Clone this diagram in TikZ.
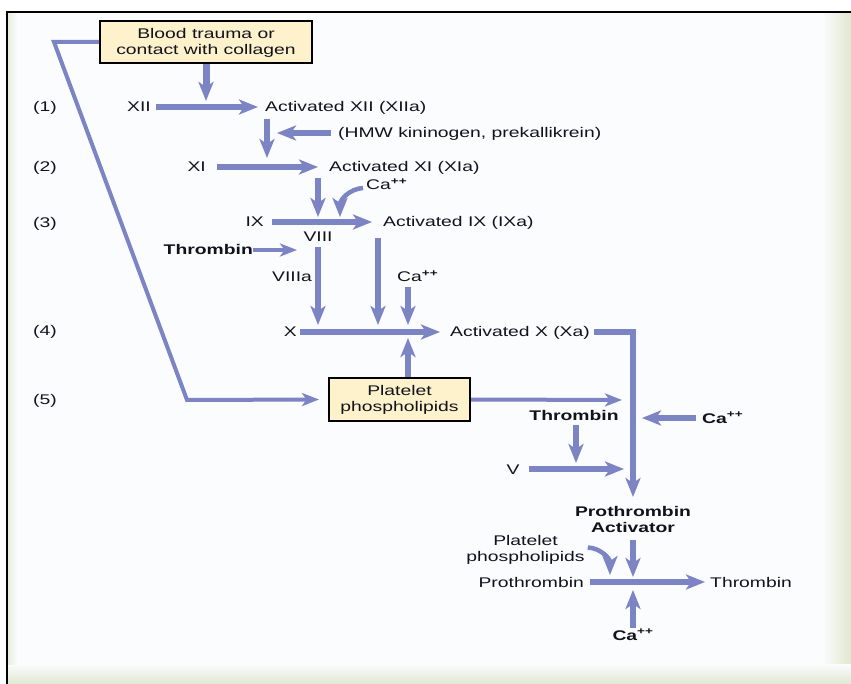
\documentclass[tikz,border=0pt]{standalone}
\usepackage{fontspec}
\setmainfont{Liberation Sans}[FakeStretch=1.38]
\usetikzlibrary{arrows.meta}
\definecolor{arr}{RGB}{124,132,196}
\definecolor{boxfill}{RGB}{254,242,204}
\definecolor{txt}{RGB}{18,18,28}
\definecolor{bgc}{RGB}{250,252,254}
\definecolor{grn}{RGB}{226,231,208}
\begin{document}
\begin{tikzpicture}[x=1pt,y=-1pt,
  every node/.style={inner sep=0pt, text=txt, font=\fontsize{14}{16}\selectfont},
  lbl/.style={text height=10pt, text depth=0pt},
  bold/.style={font=\fontsize{14}{16}\selectfont\bfseries},
  multi/.style={align=center},
  pbox/.style={draw=black, line width=2pt, fill=boxfill, align=center},
  flow/.style={draw=arr, line width=5.5pt, -{Stealth[length=19pt,width=15pt,inset=5pt]}},
  thinflow/.style={draw=arr, line width=4pt, -{Stealth[length=17pt,width=13pt,inset=4.5pt]}}]
% background and frame
\useasboundingbox (0,0) rectangle (851,684);
\fill[white] (0,0) rectangle (851,684);
\fill[bgc] (7,12) rectangle (851,684);
\shade[left color=bgc, right color=grn] (822,12) rectangle (851,684);
\shade[top color=bgc, bottom color=grn] (7,664) rectangle (851,684);
\shade[left color=grn!70!bgc, right color=bgc] (8,12) rectangle (17,664);
\draw[line width=2.5pt] (7,684) -- (7,12) -- (851,12);

% boxes
\node[pbox, minimum width=212pt, minimum height=42pt] (trauma) at (206,42) {\rule{0pt}{11.5pt}Blood trauma or\\contact with collagen};
\node[pbox, minimum width=141pt, minimum height=43pt] (plat) at (399.5,399.5) {\rule{0pt}{11.5pt}Platelet\\phospholipids};

% row labels
\node[lbl] (r1) at (45,107) {(1)};
\node[lbl] (r2) at (45,167) {(2)};
\node[lbl] (r3) at (45,223) {(3)};
\node[lbl] (r4) at (45,331) {(4)};
\node[lbl] (r5) at (45,399) {(5)};

% row 1
\node[lbl, anchor=east] (xii) at (151,107) {XII};
\node[lbl, anchor=west] (axii) at (265,107) {Activated XII (XIIa)};
\draw[flow] ([xshift=5pt]xii.east) -- ([xshift=-7pt]axii.west);
\coordinate (j1) at (206,101);
\draw[flow, line width=7pt] (trauma.south) -- (j1);
\node[lbl, anchor=west] (hmw) at (338,133) {(HMW kininogen, prekallikrein)};
\coordinate (j2) at (277,133);
\draw[flow] ([xshift=-7pt]hmw.west) -- (j2);
\coordinate (a1) at (267,119);
\coordinate (j3) at (267,158);
\draw[flow] (a1) -- (j3);

% row 2
\node[lbl, anchor=east] (xi) at (206,167) {XI};
\node[lbl, anchor=west] (axi) at (329,167) {Activated XI (XIa)};
\draw[flow] ([xshift=11pt]xi.east) -- ([xshift=-11pt]axi.west);
\coordinate (a2) at (318,178);
\coordinate (j4) at (318,217);
\draw[flow] (a2) -- (j4);
\node[lbl, anchor=west] (ca1) at (366,185) {Ca\textsuperscript{\bfseries ++}};
\coordinate (j5) at (340,217);
\draw[flow, line width=4.5pt] ([xshift=-3pt,yshift=-3pt]ca1.west) .. controls (349,189) and (340,200) .. (j5);

% row 3
\node[lbl, anchor=east] (ix) at (264,222) {IX};
\node[lbl, anchor=west] (aix) at (383,222) {Activated IX (IXa)};
\draw[flow] ([xshift=8pt]ix.east) -- ([xshift=-11pt]aix.west);
\node[lbl] (viii) at (318,237) {VIII};
\node[lbl, bold, anchor=east] (thr1) at (253,250) {Thrombin};
\coordinate (j6) at (297,250);
\draw[thinflow] (thr1.east) -- (j6);
\node[lbl] (viiia) at (292,277) {VIIIa};
\coordinate (j7) at (318,325);
\draw[flow] ([yshift=-5pt]viii.south) -- (j7);
\coordinate (a3) at (378,238);
\coordinate (j8) at (378,325);
\draw[flow] (a3) -- (j8);
\node[lbl, anchor=west] (ca2) at (397,277) {Ca\textsuperscript{\bfseries ++}};
\coordinate (a4) at (408,287);
\coordinate (j9) at (408,325);
\draw[flow] (a4) -- (j9);

% row 4
\node[lbl, anchor=east] (x) at (297,332) {X};
\node[lbl, anchor=west] (ax) at (450,332) {Activated X (Xa)};
\draw[flow] ([xshift=3pt]x.east) -- ([xshift=-10pt]ax.west);
\coordinate (j10) at (633,497);
\draw[flow] ([xshift=4pt]ax.east) -| (j10);
\coordinate (j11) at (408,338);
\draw[flow] ([xshift=8.5pt]plat.north) -- (j11);

% row 5 / diagonal
\coordinate (c1) at (54,42);
\coordinate (c2) at (187,400);
\draw[thinflow] (trauma.west) -- (c1) -- (c2) -- ([xshift=-9pt]plat.west);
\coordinate (j12) at (622,400);
\draw[thinflow] (plat.east) -- (j12);
\node[lbl, bold] (thr2) at (574,415) {Thrombin};
\coordinate (j13) at (576,463);
\draw[flow] ([xshift=2pt,yshift=-5pt]thr2.south) -- (j13);
\node[lbl] (v) at (513,469) {V};
\coordinate (j14) at (624,469);
\draw[flow] ([xshift=9pt]v.east) -- (j14);
\node[lbl, bold, anchor=west] (ca3) at (702,418) {Ca\textsuperscript{++}};
\coordinate (j15) at (642,418);
\draw[flow] ([xshift=-6pt]ca3.west) -- (j15);

% bottom
\node[bold, multi] (pa) at (633,519.5) {Prothrombin\\Activator};
\coordinate (j16) at (633,577);
\draw[flow] (633,540) -- (j16);
\node[multi] (pp2) at (525.5,549.5) {Platelet\\phospholipids};
\coordinate (j17) at (610,575);
\draw[flow, line width=4.5pt] ([xshift=3pt,yshift=2pt]pp2.east) .. controls (600,548) and (610,558) .. (j17);
\node[lbl, anchor=east] (pro) at (584,582) {Prothrombin};
\node[lbl, anchor=west] (thr3) at (710,582) {Thrombin};
\draw[flow] ([xshift=6pt]pro.east) -- ([xshift=-5pt]thr3.west);
\node[lbl, bold] (ca4) at (633,635) {Ca\textsuperscript{++}};
\coordinate (j18) at (633,590);
\draw[flow] ([yshift=2pt]ca4.north) -- (j18);
\end{tikzpicture}
\end{document}
